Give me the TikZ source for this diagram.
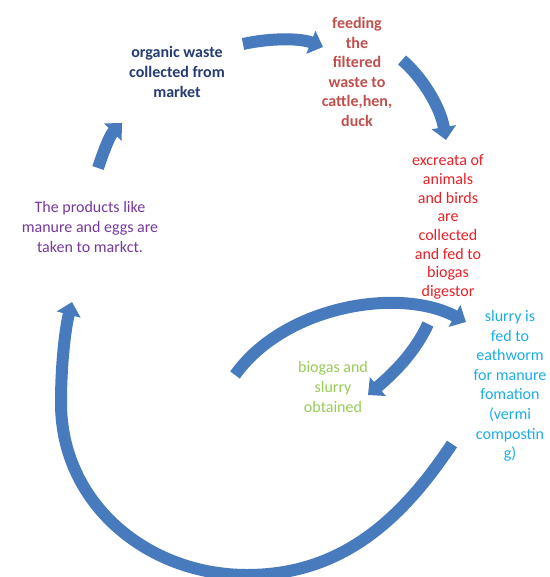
\documentclass[tikz,border=0pt]{standalone}
\usepackage{fontspec}
\setmainfont{Carlito}
\usetikzlibrary{arrows.meta}
\definecolor{flow}{RGB}{72,122,190}
\definecolor{navy}{RGB}{36,60,115}
\definecolor{brick}{RGB}{192,80,77}
\definecolor{scarlet}{RGB}{232,32,38}
\definecolor{plum}{RGB}{118,56,160}
\definecolor{lime}{RGB}{150,204,86}
\definecolor{aqua}{RGB}{28,172,228}

\begin{document}
\begin{tikzpicture}[
        x=1pt,y=-1pt,
        arr/.style={-{Triangle[length=13pt,width=24pt]},line width=12pt,draw=flow},
        stage/.style={align=center,inner sep=0pt,font=\fontsize{16}{19.6}\selectfont},
        bstage/.style={stage,font=\fontsize{16}{19.6}\selectfont\bfseries}
      ]
      \useasboundingbox (0,0) rectangle (549,577);

      \node[bstage,text=navy] (organic) at (177,72) {organic waste\\collected from\\market};
      \node[bstage,text=brick] (feeding) at (357,72) {feeding\\the\\filtered\\waste to\\cattle,hen,\\duck};
      \node[stage,text=scarlet,font=\fontsize{16}{18.7}\selectfont] (excreta) at (448,227) {excreata of\\animals\\and birds\\are\\collected\\and fed to\\biogas\\digestor};
      \node[stage,text=aqua] (slurry) at (510,386) {slurry is\\fed to\\eathworm\\for manure\\fomation\\(vermi\\compostin\\g)};
      \node[stage,text=lime] (biogas) at (333,387) {biogas and\\slurry\\obtained};
      \node[stage,text=plum] (products) at (90,227) {The products like\\manure and eggs are\\taken to markct.};

      % free ends of the curved arrows
      \coordinate (a1) at (243,44);  \coordinate (b1) at (323,47);
      \coordinate (a2) at (402,60);  \coordinate (b2) at (446,140);
      \coordinate (a3) at (452,444); \coordinate (b3) at (72,302);
      \coordinate (a4) at (235,375); \coordinate (b4) at (466,322);
      \coordinate (a5) at (428,324); \coordinate (b5) at (368,395);
      \coordinate (a6) at (98,168);  \coordinate (b6) at (122,123);

      \draw[arr] (a1) .. controls (270,38) and (300,38) .. (b1);
      \draw[arr] (a2) .. controls (420,75) and (440,105) .. (b2);
      \draw[arr] (a3) .. controls (402,519) and (342,575) .. (247,575)
                 .. controls (147,575) and (61,503) .. (61,403)
                 .. controls (61,360) and (66,325) .. (b3);
      \draw[arr] (a4) .. controls (285,305) and (400,287) .. (b4);
      \draw[arr] (a5) .. controls (415,352) and (395,372) .. (b5);
      \draw[arr] (a6) .. controls (104,150) and (110,135) .. (b6);
    \end{tikzpicture}
\end{document}
